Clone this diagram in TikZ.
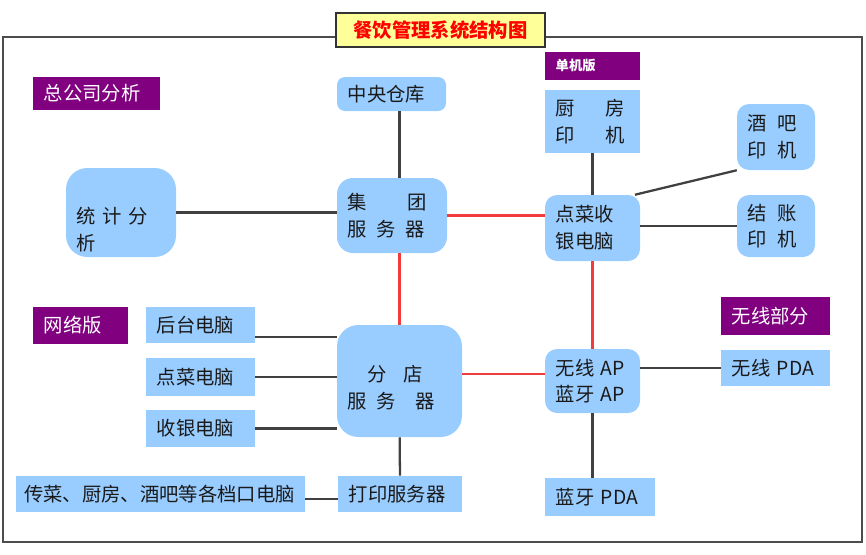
\documentclass[tikz,border=0pt]{standalone}
\usepackage{fontspec}
\setmainfont{Noto Sans CJK SC}
\definecolor{skyblue}{HTML}{99CCFF}
\definecolor{plum}{HTML}{800080}
\definecolor{lemon}{HTML}{FFFF99}
\definecolor{ink}{HTML}{1A1A1A}
\definecolor{wire}{HTML}{404040}
\definecolor{hot}{HTML}{F03C3C}
\begin{document}
\begin{tikzpicture}[x=0.75pt,y=-0.75pt,
  sz/.style 2 args={minimum width=#1*0.75pt, minimum height=#2*0.75pt, text width=#1*0.75pt-16pt},
  box/.style={fill=skyblue, text=ink, inner xsep=8pt, inner ysep=0pt, align=left,
    font=\fontsize{14.5pt}{20pt}\selectfont},
  soft/.style={rounded corners=#1},
  tag/.style={box, fill=plum, text=white},
  link/.style={draw=wire, line width=1.7pt},
  hotlink/.style={draw=hot, line width=1.7pt}]
 \useasboundingbox (0,0) rectangle (866,554);
 \draw[draw=black!70, line width=1.5pt] (3,37) rectangle (862,542);
 % headline
 \node[box, sz={209}{34}, fill=lemon, draw=black!80, line width=1.2pt, text=red, align=center,
   font=\fontsize{14.5pt}{20pt}\selectfont\bfseries] (title) at (440.5,30) {餐饮管理系统结构图};
 % section tags
 \node[tag, sz={127}{33}] (hq) at (96.5,93.5) {总公司分析};
 \node[tag, sz={95}{28}, font=\fontsize{10pt}{12pt}\selectfont\bfseries] (single) at (592.5,66) {单机版};
 \node[tag, sz={95}{37}] (net) at (80.5,325.5) {网络版};
 \node[tag, sz={109}{38}] (wireless) at (775.5,316) {无线部分};
 % head office
 \node[box, soft=6pt, sz={109}{34}] (store) at (391.5,94) {中央仓库};
 \node[box, soft=16pt, sz={110}{89}] (stat) at (121,212.5) {\rule{0pt}{38pt}统 计 分\\析};
 \node[box, soft=12pt, sz={110}{75}] (group) at (392,215.5) {集\hspace{2.1em}团\\服\hspace{0.5em}务\hspace{0.5em}器};
 % single shop
 \node[box, sz={95}{63}] (kitchen) at (592.5,121.5) {厨\hspace{1.6em}房\\印\hspace{1.6em}机};
 \node[box, soft=9pt, sz={78}{66}] (bar) at (776,137) {酒\hspace{0.55em}吧\\印\hspace{0.55em}机};
 \node[box, soft=9pt, sz={95}{66}] (pos) at (592.5,228) {点菜收\\银电脑};
 \node[box, soft=9pt, sz={78}{62}] (bill) at (776,226) {结\hspace{0.55em}账\\印\hspace{0.55em}机};
 % branch network
 \node[box, sz={109}{36}] (back) at (200.5,325) {后台电脑};
 \node[box, soft=16pt, sz={125}{112}] (branch) at (399.5,381) {\rule{0pt}{22pt}\hspace{1em}分\hspace{0.9em}店\\服\hspace{0.5em}务\hspace{1em}器};
 \node[box, sz={109}{38}] (order) at (200.5,377) {点菜电脑};
 \node[box, sz={109}{37}] (cash) at (200.5,428.5) {收银电脑};
 \node[box, sz={285}{36}, inner xsep=6pt, text width=273pt*0.75] (ports) at (160.5,494) {传菜、厨房、酒吧等各档口电脑};
 \node[box, sz={124}{36}] (print) at (400,494) {打印服务器};
 % wireless
 \node[box, soft=9pt, sz={95}{64}] (ap) at (592.5,381) {无线 AP\\蓝牙 AP};
 \node[box, sz={109}{36}] (wpda) at (775.5,368) {无线 PDA};
 \node[box, sz={110}{38}] (bpda) at (600,497) {蓝牙 PDA};
 % wires
 \draw[link] ([xshift=6pt]store.south) -- ([xshift=6pt]store.south |- group.north);
 \draw[link] (stat.east) -- (stat.east -| group.west);
 \draw[hotlink] (group.east) -- (group.east -| pos.west);
 \draw[hotlink] (branch.north |- group.south) -- (branch.north);
 \draw[link] (kitchen) -- (pos);
 \draw[link] ([xshift=-4pt]pos.north east) -- (bar.south west);
 \draw[link] (bill.west -| pos.east) -- (bill.west);
 \draw[hotlink] (pos) -- (ap);
 \draw[hotlink] ([yshift=5pt]branch.east) -- ([yshift=5pt]ap.west);
 \draw[link] (wpda.west -| ap.east) -- (wpda.west);
 \draw[link] (ap.south) -- (ap.south |- bpda.north);
 \draw[link] ([yshift=-9pt]back.east) -- ([yshift=-9pt]back.east -| branch.west);
 \draw[link] (order.east) -- (order.east -| branch.west);
 \draw[link] (cash.east) -- (cash.east -| branch.west);
 \draw[link] (branch) -- (print);
 \draw[link] ([yshift=-4pt]ports.east) -- ([yshift=-4pt]print.west);
\end{tikzpicture}
\end{document}
